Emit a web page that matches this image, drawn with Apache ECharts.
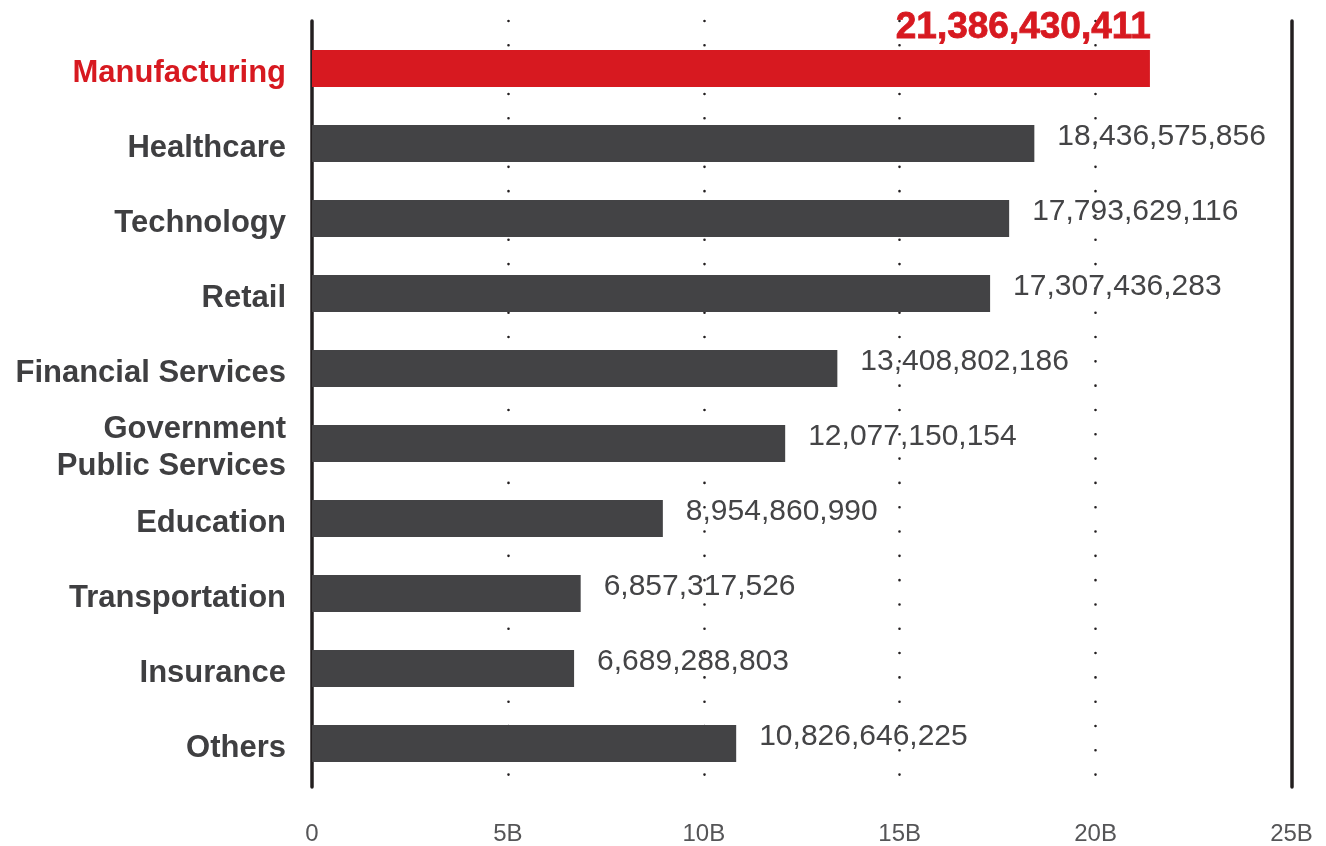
<!DOCTYPE html>
<html>
<head>
<meta charset="utf-8">
<script src="https://cdn.jsdelivr.net/npm/echarts@6/dist/echarts.min.js"></script>
<style>
html,body{margin:0;padding:0;background:#fff;}
#chart{width:1326px;height:846px;}
</style>
</head>
<body>
<div id="chart"></div>
<script>
const categories = ["Manufacturing","Healthcare","Technology","Retail","Financial Services","Government\nPublic Services","Education","Transportation","Insurance","Others"];
const values = [21386430411,18436575856,17793629116,17307436283,13408802186,12077150154,8954860990,6857317526,6689288803,10826646225];
const highlightIndex = 0;
const axisMin = 0, axisMax = 25e9, axisStep = 5e9;

const RED = '#d71920', DARK = '#434345', TEXT = '#3f3f41';
const fmt = v => Math.round(v).toLocaleString('en-US');

const data = values.map((v, i) => {
  if (i === highlightIndex) {
    return {
      value: v,
      itemStyle: {color: RED},
      label: {
        show: true, position: ['100%', 0], align: 'right', verticalAlign: 'bottom',
        offset: [1, -4],
        color: RED, fontWeight: 'bold', fontSize: 37, fontFamily: 'Liberation Sans',
        textBorderColor: RED, textBorderWidth: 0.8,
        formatter: p => fmt(p.value)
      }
    };
  }
  return {value: v};
});

const chart = echarts.init(document.getElementById('chart'), null, {renderer: 'canvas'});
chart.setOption({
  animation: false,
  backgroundColor: '#fff',
  grid: [
    {left: 312, right: 34.5, top: 31, bottom: 65},
    {left: 312, right: 34.5, top: 21, bottom: 56}
  ],
  xAxis: [
    {gridIndex: 0, type: 'value', min: axisMin, max: axisMax, interval: axisStep,
     axisLine: {show: false}, axisTick: {show: false}, axisLabel: {show: false}, splitLine: {show: false}},
    {gridIndex: 1, type: 'value', min: axisMin, max: axisMax, interval: axisStep,
     axisLine: {show: false}, axisTick: {show: false},
     axisLabel: {show: true, margin: 35, color: '#555557', fontSize: 24, fontFamily: 'Liberation Sans',
       formatter: v => v === 0 ? '0' : (v / 1e9) + 'B'},
     splitLine: {show: true, showMinLine: false, showMaxLine: false,
       lineStyle: {color: '#231f20', width: 2.6, type: [0.01, 24.3], cap: 'round'}}}
  ],
  yAxis: [
    {gridIndex: 0, type: 'category', data: categories, inverse: true,
     axisLine: {show: false}, axisTick: {show: false},
     axisLabel: {
       margin: 26, fontSize: 31, fontWeight: 'bold', fontFamily: 'Liberation Sans', lineHeight: 37,
       color: TEXT, padding: [9, 0, 0, 0],
       formatter: (v, i) => i === highlightIndex ? '{h|' + v + '}' : v,
       rich: {h: {color: RED, fontSize: 31, fontWeight: 'bold', fontFamily: 'Liberation Sans'}}
     }},
    {gridIndex: 1, type: 'value', position: 'left', min: 0, max: 1,
     axisLine: {show: true, lineStyle: {color: '#231f20', width: 3.5}},
     axisTick: {show: false}, axisLabel: {show: false}, splitLine: {show: false}},
    {gridIndex: 1, type: 'value', position: 'right', min: 0, max: 1,
     axisLine: {show: true, lineStyle: {color: '#231f20', width: 3.5}},
     axisTick: {show: false}, axisLabel: {show: false}, splitLine: {show: false}}
  ],
  series: [{
    type: 'bar', xAxisIndex: 0, yAxisIndex: 0, data: data, barWidth: 37, z: 3,
    itemStyle: {color: DARK},
    label: {show: true, position: 'right', distance: 23, offset: [0, -7],
      color: '#444446', fontSize: 30, fontFamily: 'Liberation Sans',
      formatter: p => fmt(p.value)}
  }]
});
</script>
</body>
</html>
